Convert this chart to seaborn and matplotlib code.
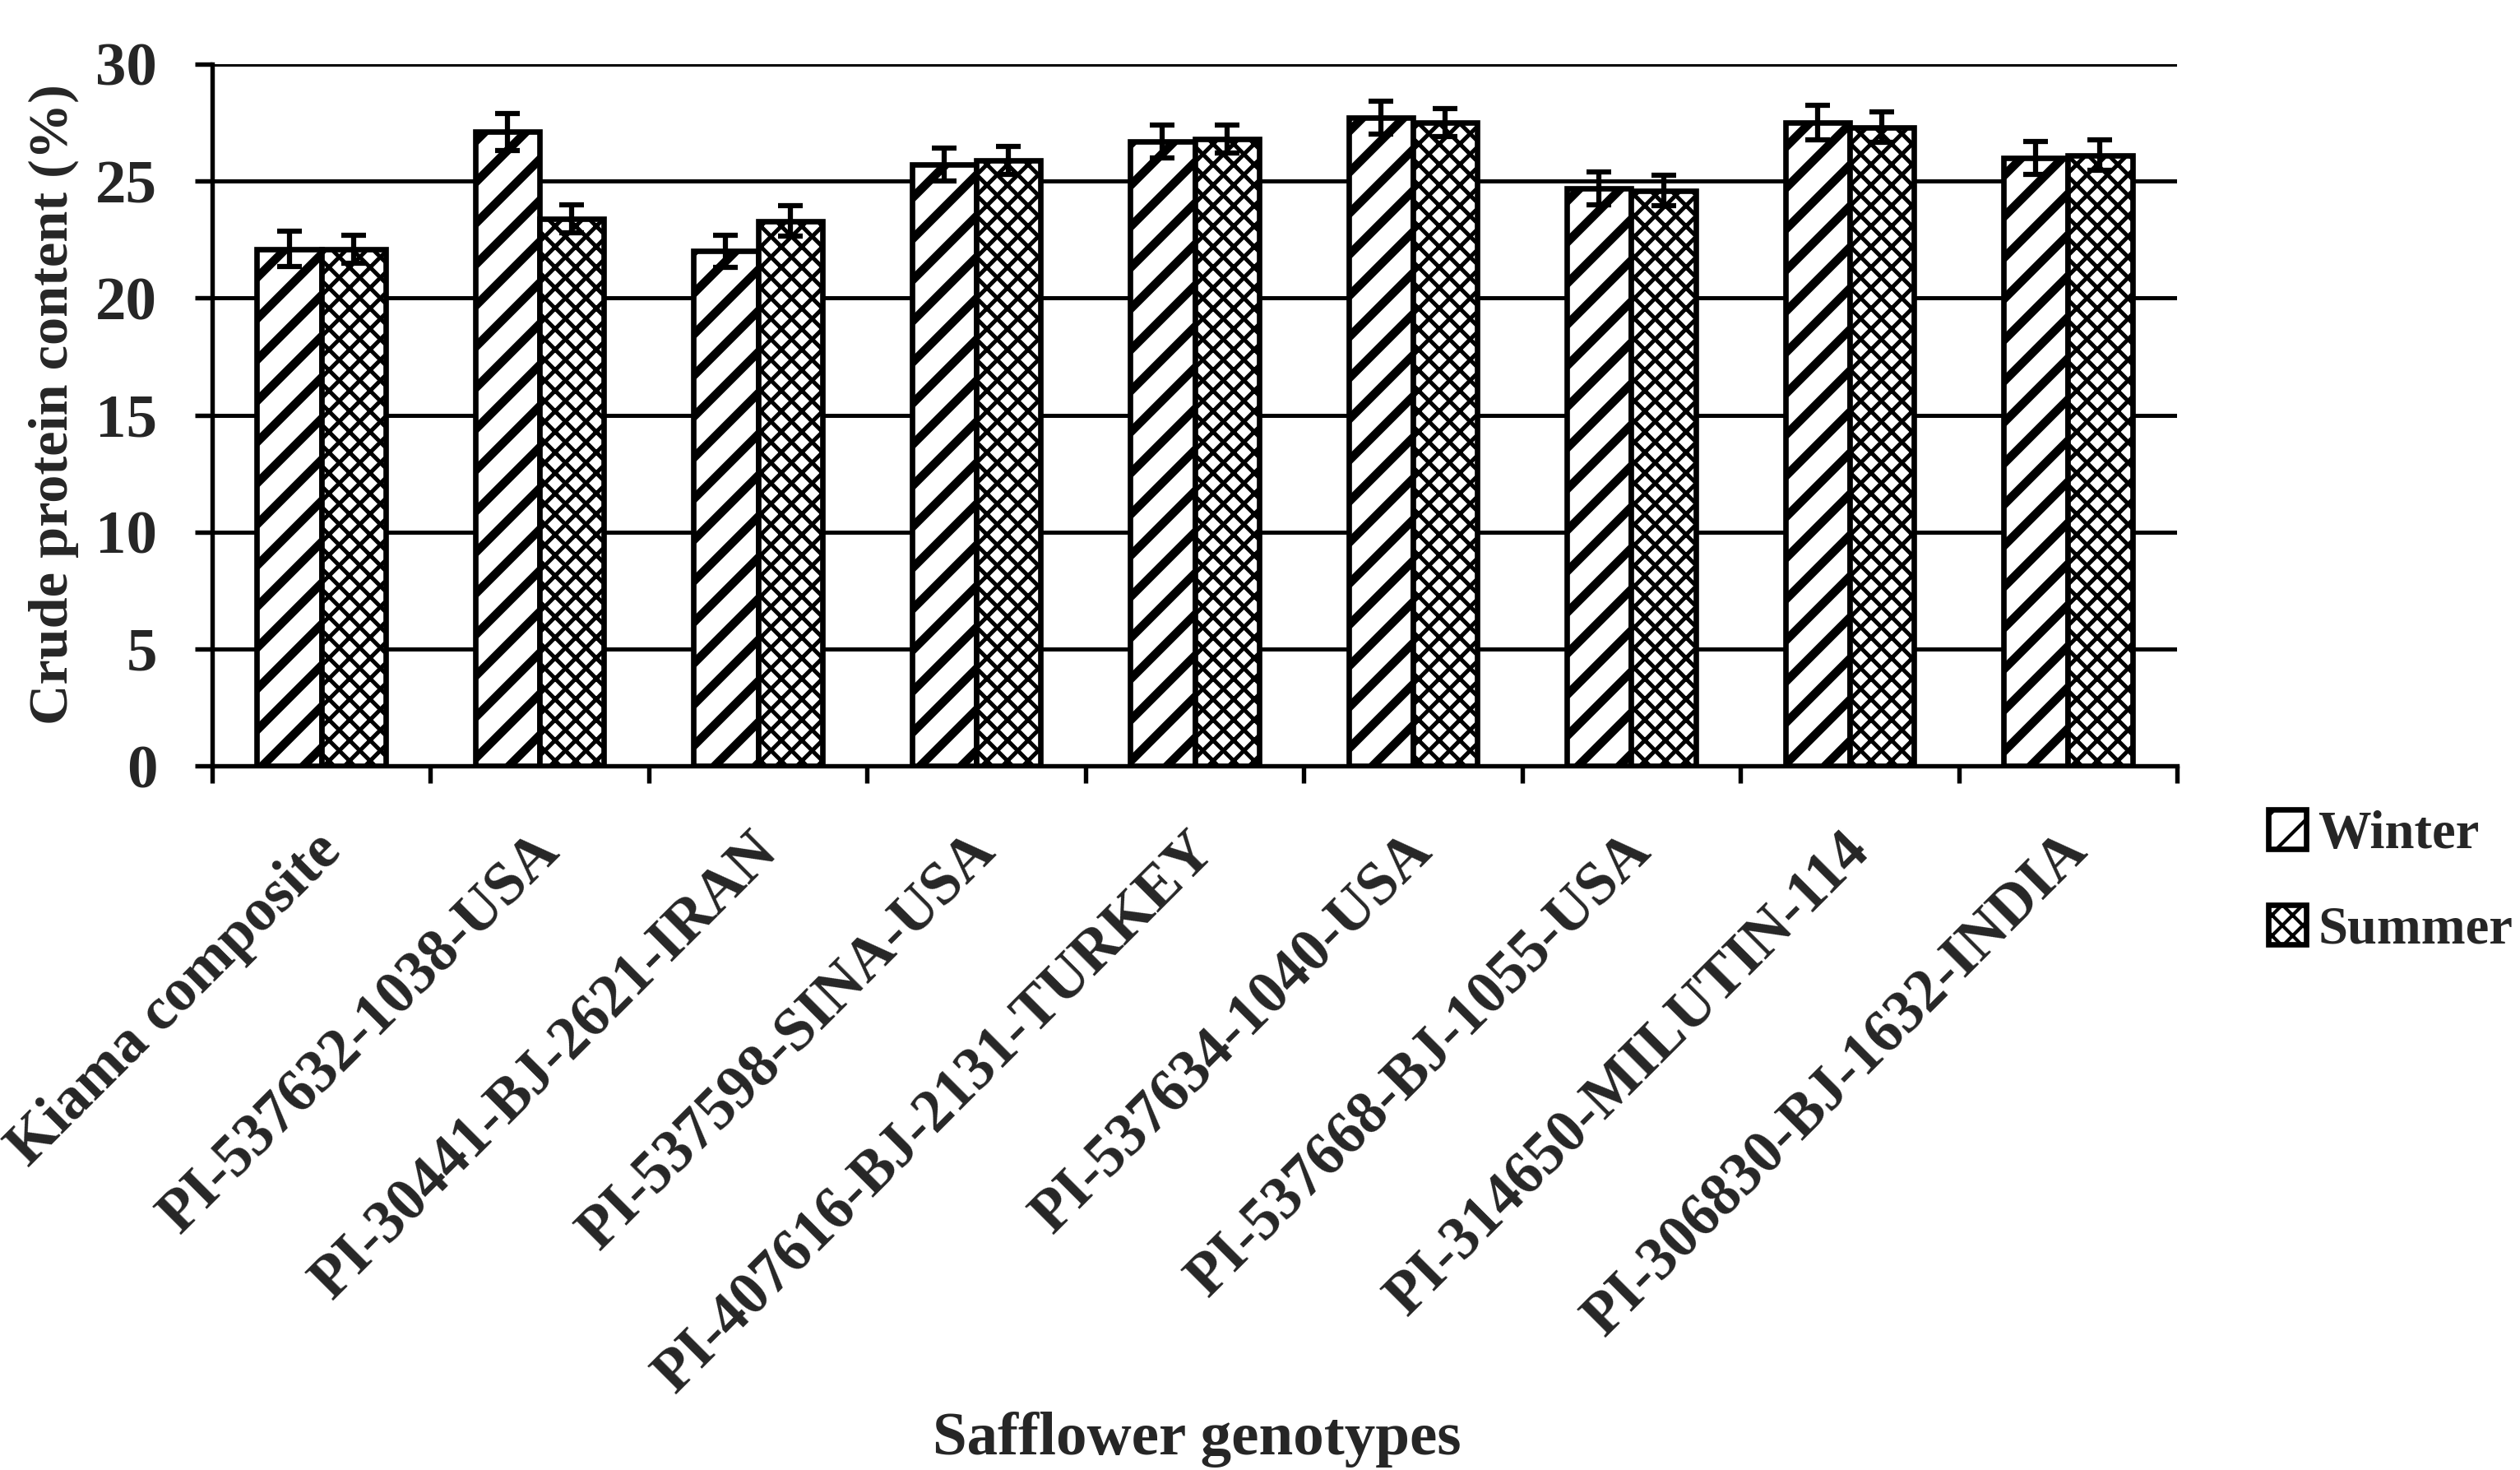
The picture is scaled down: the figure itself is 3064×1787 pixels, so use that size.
import numpy as np
import pandas as pd
import matplotlib
matplotlib.use("Agg")
import matplotlib.pyplot as plt
import matplotlib.transforms as mtransforms
import seaborn as sns

genotypes = [
    "Kiama composite",
    "PI-537632-1038-USA",
    "PI-30441-BJ-2621-IRAN",
    "PI-537598-SINA-USA",
    "PI-407616-BJ-2131-TURKEY",
    "PI-537634-1040-USA",
    "PI-537668-BJ-1055-USA",
    "PI-314650-MILUTIN-114",
    "PI-306830-BJ-1632-INDIA",
]
seasons = ["Winter", "Summer"]
winter = [22.1, 27.1, 22.0, 25.7, 26.7, 27.7, 24.7, 27.5, 26.0]
summer = [22.1, 23.4, 23.3, 25.9, 26.8, 27.5, 24.6, 27.3, 26.1]
winter_err = [0.75, 0.8, 0.7, 0.7, 0.7, 0.7, 0.7, 0.75, 0.7]
summer_err = [0.6, 0.6, 0.65, 0.6, 0.6, 0.6, 0.65, 0.65, 0.65]
yticks = [0, 5, 10, 15, 20, 25, 30]

df = pd.DataFrame({
    "genotype": genotypes * 2,
    "season": ["Winter"] * len(genotypes) + ["Summer"] * len(genotypes),
    "value": winter + summer,
})

sns.set_theme(style="white")
plt.rcParams["font.family"] = ["Liberation Serif", "DejaVu Serif"]
plt.rcParams["hatch.color"] = "black"

W, H, DPI = 3064, 1787, 300
fig = plt.figure(figsize=(W / DPI, H / DPI), dpi=DPI)
ax = fig.add_axes([258 / W, 1 - 931 / H, (2647 - 258) / W, (931 - 78) / H])

sns.barplot(data=df, x="genotype", y="value", hue="season", order=genotypes,
            hue_order=seasons, palette=["white", "white"], edgecolor="black",
            linewidth=1.6, width=0.59, errorbar=None, ax=ax, legend=False,
            zorder=3)

hatches = ["//", "xxxx"]
hlw = [2.5, 1.2]
errs = [winter_err, summer_err]
for cont, hatch, lw, err in zip(ax.containers, hatches, hlw, errs):
    xs, ys = [], []
    for p in cont:
        p.set_hatch(hatch)
        p.set_edgecolor("black")
        if hasattr(p, "set_hatch_linewidth"):
            p.set_hatch_linewidth(lw)
        xs.append(p.get_x() + p.get_width() / 2)
        ys.append(p.get_height())
    ax.errorbar(xs, ys, yerr=err, fmt="none", ecolor="black", elinewidth=1.5,
                capsize=3.7, capthick=1.5, zorder=6)

ax.set_ylim(0, 30)
ax.set_xlim(-0.5, len(genotypes) - 0.5)
ax.set_yticks(yticks)
ax.set_yticklabels([str(v) for v in yticks], fontsize=18, fontweight="bold")
ax.yaxis.grid(True, color="black", linewidth=1.2, linestyle="-")
ax.xaxis.grid(False)
ax.set_axisbelow(True)

for s in ["top", "right"]:
    ax.spines[s].set_visible(False)
for s in ["left", "bottom"]:
    ax.spines[s].set_color("black")
    ax.spines[s].set_linewidth(1.3)

ax.tick_params(axis="y", direction="out", length=5, width=1.3, color="black",
               pad=11, left=True)
ax.tick_params(axis="x", which="major", length=0, pad=22.5)
ax.set_xticks(np.arange(-0.5, len(genotypes), 1.0), minor=True)
ax.tick_params(axis="x", which="minor", direction="out", length=5, width=1.3,
               color="black", bottom=True)

ax.set_xticklabels(genotypes, rotation=45, ha="right", va="center",
                   rotation_mode="anchor", fontsize=17.5, fontweight="bold")
shift = mtransforms.ScaledTranslation(14 / DPI, 0, fig.dpi_scale_trans)
for lab in ax.get_xticklabels():
    lab.set_transform(lab.get_transform() + shift)

ax.set_ylabel("Crude protein content (%)", fontsize=16.4, fontweight="bold")
ax.yaxis.set_label_coords(-0.068, 0.515)
ax.set_xlabel("Safflower genotypes", fontsize=18, fontweight="bold")
ax.xaxis.set_label_coords(0.501, -0.92)

handles = [ax.containers[0][0], ax.containers[1][0]]
leg = ax.legend(handles, seasons, loc="upper left",
                bbox_to_anchor=(2700 / W, 1 - 926 / H),
                bbox_transform=fig.transFigure, frameon=False,
                prop={"family": "Liberation Serif", "weight": "bold", "size": 15.5},
                handlelength=0.71, handleheight=0.77, handletextpad=0.22,
                labelspacing=0.85, borderpad=0.4)

fig.savefig("out.png", dpi=DPI, facecolor="white")
